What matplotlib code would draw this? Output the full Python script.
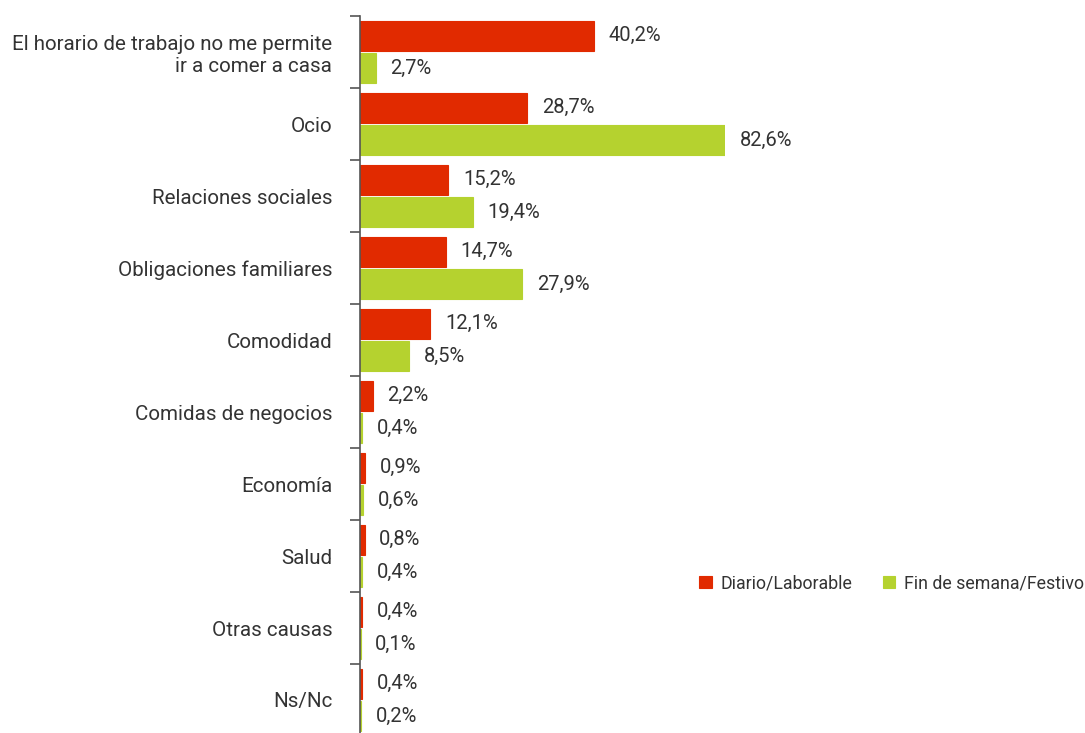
import matplotlib
matplotlib.use("Agg")
import matplotlib.pyplot as plt
import numpy as np

# Motivos para comer fuera de casa, por tipo de día (%)
categories = [
    "El horario de trabajo no me permite\nir a comer a casa",
    "Ocio",
    "Relaciones sociales",
    "Obligaciones familiares",
    "Comodidad",
    "Comidas de negocios",
    "Economía",
    "Salud",
    "Otras causas",
    "Ns/Nc",
]
laborable = [40.2, 28.7, 15.2, 14.7, 12.1, 2.2, 0.9, 0.8, 0.4, 0.4]
festivo = [2.7, 82.6, 19.4, 27.9, 8.5, 0.4, 0.6, 0.4, 0.1, 0.2]
series_names = ["Diario/Laborable", "Fin de semana/Festivo"]

RED = "#E12A00"
GREEN = "#B5D22F"
TEXT = "#333333"
AXIS = "#555555"

plt.rcParams["font.family"] = ["Roboto", "DejaVu Sans"]

W, H = 1085, 733
fig = plt.figure(figsize=(W / 100, H / 100), dpi=100)
# axes box in pixel terms: left edge 360, right edge 725, top 16, bottom just past the frame
ax = fig.add_axes([360 / W, -3 / H, 365 / W, (H - 16 + 3) / H])

xmax = 62.7  # the longest bar is cut at the right edge
ax.set_xlim(0, xmax)
ax.set_ylim(len(categories), 0)

centers = np.arange(len(categories)) + 0.5
bh = 0.42
off = 0.225
ax.barh(centers - off, laborable, height=bh, color=RED, edgecolor=RED,
        linewidth=0.8, label=series_names[0])
ax.barh(centers + off, festivo, height=bh, color=GREEN, edgecolor=GREEN,
        linewidth=0.8, label=series_names[1])


def fmt(v):
    return f"{v:.1f}%".replace(".", ",")


for vals, dy in ((laborable, -off), (festivo, off)):
    for y, v in zip(centers + dy, vals):
        ax.text(min(v, xmax) + 2.5, y, fmt(v), va="center", ha="left",
                fontsize=14.5, color=TEXT, clip_on=False)

# category boundaries as ticks, names on minor ticks at centres
ax.set_yticks(np.arange(len(categories) + 1))
ax.set_yticklabels([])
ax.tick_params(axis="y", which="major", length=7, width=1.2, color=AXIS, direction="out")
ax.set_yticks(centers, minor=True)
ax.set_yticklabels(categories, minor=True, fontsize=14.8, color=TEXT)
ax.tick_params(axis="y", which="minor", length=0, pad=20)
for lbl in ax.get_yticklabels(minor=True):
    lbl.set_multialignment("right")

ax.set_xticks([])
for side in ("top", "right", "bottom"):
    ax.spines[side].set_visible(False)
ax.spines["left"].set_color(AXIS)
ax.spines["left"].set_linewidth(1.2)

ax.legend(loc="center right", bbox_to_anchor=(1084 / W, 1 - 583 / H),
          bbox_transform=fig.transFigure, ncol=2, frameon=False,
          fontsize=12.8, handlelength=0.7, handleheight=0.7,
          handletextpad=0.5, columnspacing=1.7, borderpad=0, borderaxespad=0,
          labelcolor=TEXT)

fig.savefig("out.png", dpi=100)
